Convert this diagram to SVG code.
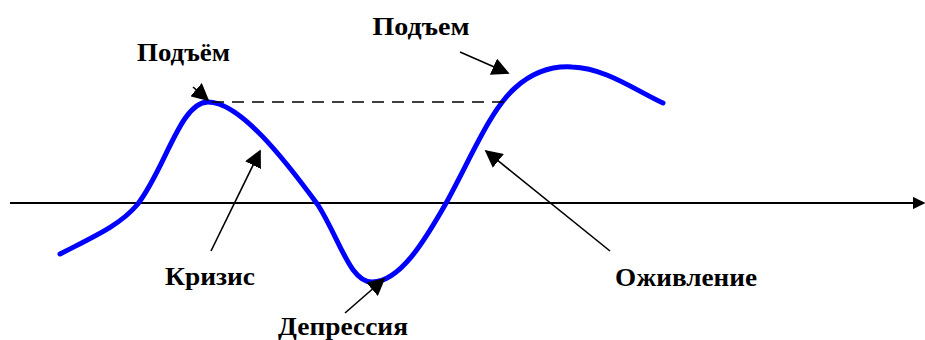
<svg xmlns="http://www.w3.org/2000/svg" width="925" height="340" viewBox="0 0 925 340">
<defs>
<marker id="ah" viewBox="0 0 10 10" refX="9" refY="5" markerWidth="7" markerHeight="7" orient="auto" markerUnits="strokeWidth"><path d="M0,0 L10,5 L0,10 z" fill="#000"/></marker>
<marker id="ah2" viewBox="0 0 10 10" refX="9" refY="5" markerWidth="11" markerHeight="11" orient="auto" markerUnits="strokeWidth"><path d="M0,0 L10,5 L0,10 z" fill="#000"/></marker>
<style>
.lbl{font-family:"Liberation Serif","Times New Roman",serif;font-weight:bold;font-size:25px;fill:#000;text-anchor:middle}
.ptr{stroke:#000;stroke-width:1.6;fill:none;marker-end:url(#ah2)}
</style>
</defs>
<rect width="925" height="340" fill="#fff"/>
<g id="axis"><line x1="10" y1="203" x2="924" y2="203" stroke="#000" stroke-width="1.8" marker-end="url(#ah)"/></g>
<g id="curve"><path d="M60,254 C95,236 120,225 137,205 C165,170 180,102 208,102 C240,102 285,160 318,205 C340,240 350,282 372,282 C400,282 425,240 445,205 C470,160 490,110 515,88 C535,70 555,66 572,67 C605,68 635,90 663,103" fill="none" stroke="#0000ff" stroke-width="5" stroke-linecap="round"/></g>
<g id="dashed"><line x1="212" y1="102" x2="510" y2="102" stroke="#000" stroke-width="1.6" stroke-dasharray="12,8"/></g>
<g id="connectors">
<line class="ptr" x1="193" y1="87" x2="208" y2="100"/>
<line class="ptr" x1="460" y1="52" x2="508" y2="73"/>
<line class="ptr" x1="211" y1="251" x2="260" y2="151"/>
<line class="ptr" x1="610" y1="251" x2="486" y2="151"/>
<line class="ptr" x1="345" y1="313" x2="384" y2="279"/>
</g>
<g id="n1"><text class="lbl" x="183.5" y="61" textLength="93" lengthAdjust="spacingAndGlyphs">Подъём</text></g>
<g id="n2"><text class="lbl" x="421" y="35" textLength="97" lengthAdjust="spacingAndGlyphs">Подъем</text></g>
<g id="n3"><text class="lbl" x="210" y="285" textLength="90" lengthAdjust="spacingAndGlyphs">Кризис</text></g>
<g id="n4"><text class="lbl" x="343" y="335" textLength="130" lengthAdjust="spacingAndGlyphs">Депрессия</text></g>
<g id="n5"><text class="lbl" x="686" y="286" textLength="142" lengthAdjust="spacingAndGlyphs">Оживление</text></g>
</svg>
